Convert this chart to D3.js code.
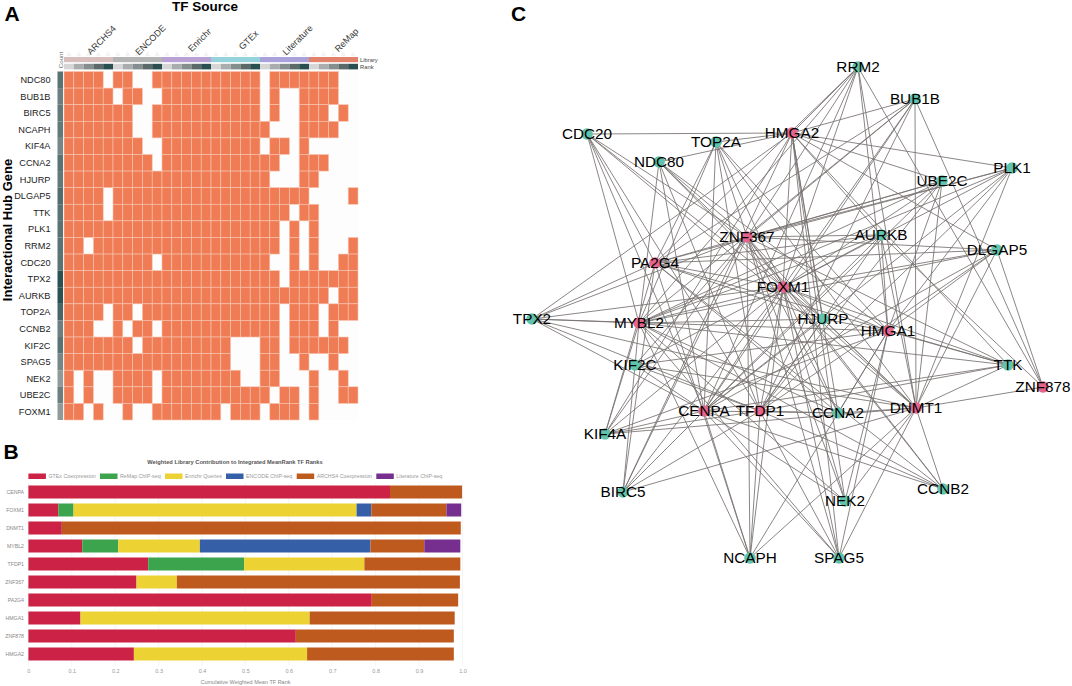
<!DOCTYPE html>
<html><head><meta charset="utf-8">
<script src="https://d3js.org/d3.v7.min.js"></script>
<style>html,body{margin:0;padding:0;background:#fff}svg{display:block}text{font-family:"Liberation Sans",Arial,sans-serif}</style>
</head><body><svg id="c" width="1072" height="686"></svg>
<script>
// ---------- Panel A data ----------
const genes = ["NDC80","BUB1B","BIRC5","NCAPH","KIF4A","CCNA2","HJURP","DLGAP5","TTK","PLK1","RRM2","CDC20","TPX2","AURKB","TOP2A","CCNB2","KIF2C","SPAG5","NEK2","UBE2C","FOXM1"];
const libraries = ["ARCHS4","ENCODE","Enrichr","GTEx","Literature","ReMap"];
const libraryColors = ["#d9bebe","#b4b4b4","#b9a1d6","#94d2dc","#a9a1d9","#e3826a"];
const rankColors = ["#d6d6d6","#a9adad","#858e8e","#5b6969","#2a4f50"];
const membership = [
"111101100111111111110111111100",
"111110110011111111110100111100",
"111111100111111111110100111010",
"111111100111111111111000111100",
"111111110011111111110110100000",
"111111111011111111111100111000",
"111111111111111111111000110000",
"111101111111111111111111100001",
"111101111111111111111110110000",
"111111111111111111111101010000",
"110111111111111111111101010001",
"111111111011111111111001010011",
"111111111111111111111101111111",
"111111111111111111111111111011",
"111101101111111111111101110111",
"111001011011111111111101110100",
"111111101111111110001101111110",
"111111111111111110001100100100",
"101001111011111111001100010010",
"101001111011111111111011010011",
"110100100111111101110111010000"];

// ---------- Panel B data ----------
const tfRanked = ["CENPA","FOXM1","DNMT1","MYBL2","TFDP1","ZNF367","PA2G4","HMGA1","ZNF878","HMGA2"];
const seriesNames = ["GTEx Coexpression","ReMap ChIP-seq","Enrichr Queries","ENCODE ChIP-seq","ARCHS4 Coexpression","Literature ChIP-seq"];
const seriesColors = ["#cb2245","#3ca44c","#ecd233","#3560a8","#bf5a1e","#762f8e"];
const gtex     = [0.833,0.069,0.077,0.124,0.276,0.249,0.791,0.120,0.616,0.243];
const remap    = [0,0.035,0,0.083,0.221,0,0,0,0,0];
const enrichr  = [0,0.652,0,0.188,0.277,0.093,0,0.528,0,0.399];
const encode   = [0,0.034,0,0.393,0,0,0,0,0,0];
const archs4   = [0.166,0.173,0.919,0.124,0.221,0.652,0.199,0.334,0.364,0.338];
const literature = [0,0.034,0,0.083,0,0,0,0,0,0];
const axisTicks = [0,0.1,0.2,0.3,0.4,0.5,0.6,0.7,0.8,0.9,1.0];

// ---------- Panel C data ----------
const tfNodes = ["FOXM1","ZNF367","HMGA2","PA2G4","MYBL2","HMGA1","CENPA","TFDP1","DNMT1","ZNF878"];
const netNames = ["CDC20","TOP2A","NDC80","HMGA2","ZNF367","RRM2","BUB1B","PLK1","UBE2C","AURKB","DLGAP5","PA2G4","FOXM1","TPX2","MYBL2","KIF2C","CENPA","TFDP1","KIF4A","HJURP","HMGA1","TTK","ZNF878","DNMT1","CCNA2","BIRC5","NEK2","CCNB2","NCAPH","SPAG5"];
const netX = [47,176,119,252,207,318,375,472,402,341,457,115,243,-8,99,95,164,220,65,283,348,468,503,376,298,83,305,403,210,299];
const netY = [94,102,122,93,197,27,59,128,141,195,210,223,247,279,283,325,371,371,394,279,291,325,347,368,373,452,461,449,518,518];
const hubLinks = {
 CDC20:["HMGA2","ZNF367","FOXM1","PA2G4","MYBL2","CENPA","TFDP1","DNMT1"],
 TOP2A:["HMGA2","PA2G4","MYBL2","CENPA","TFDP1","FOXM1","ZNF367","HMGA1","DNMT1"],
 NDC80:["HMGA2","ZNF367","FOXM1","HMGA1","DNMT1","MYBL2","CENPA","TFDP1"],
 RRM2:["HMGA2","ZNF367","PA2G4","MYBL2","FOXM1","HMGA1","DNMT1","CENPA","ZNF878"],
 BUB1B:["HMGA2","ZNF367","PA2G4","MYBL2","CENPA","TFDP1","FOXM1","DNMT1","ZNF878"],
 PLK1:["HMGA2","ZNF367","PA2G4","MYBL2","FOXM1","HMGA1","DNMT1","CENPA","TFDP1"],
 UBE2C:["HMGA2","ZNF367","PA2G4","MYBL2","CENPA","TFDP1","FOXM1","HMGA1","DNMT1"],
 AURKB:["ZNF367","PA2G4","MYBL2","FOXM1","HMGA2","HMGA1","DNMT1","CENPA","TFDP1"],
 DLGAP5:["HMGA2","ZNF367","PA2G4","MYBL2","CENPA","TFDP1","HMGA1","DNMT1","ZNF878","FOXM1"],
 TPX2:["HMGA2","ZNF367","PA2G4","MYBL2","FOXM1","HMGA1","DNMT1","CENPA","TFDP1"],
 KIF2C:["CENPA","TFDP1","ZNF367","FOXM1","HMGA1","DNMT1"],
 KIF4A:["MYBL2","PA2G4","HMGA2","ZNF367","FOXM1","CENPA","TFDP1","DNMT1","HMGA1"],
 BIRC5:["MYBL2","PA2G4","ZNF367","FOXM1","HMGA2","CENPA","TFDP1","DNMT1"],
 NCAPH:["PA2G4","MYBL2","ZNF367","FOXM1","CENPA","TFDP1","HMGA1","DNMT1"],
 SPAG5:["MYBL2","ZNF367","FOXM1","CENPA","TFDP1","HMGA2","HMGA1","DNMT1"],
 NEK2:["CENPA","FOXM1","ZNF367","MYBL2","HMGA1","HMGA2","DNMT1"],
 CCNB2:["MYBL2","CENPA","TFDP1","FOXM1","ZNF367","PA2G4","DNMT1"],
 CCNA2:["HMGA1","HMGA2","FOXM1","ZNF367","DNMT1","TFDP1","CENPA","MYBL2","PA2G4"],
 HJURP:["HMGA1","HMGA2","FOXM1","ZNF367","DNMT1","TFDP1","CENPA","MYBL2","PA2G4"],
 TTK:["HMGA1","HMGA2","FOXM1","ZNF367","MYBL2","CENPA","DNMT1","TFDP1","PA2G4"],
 FOXM1:["ZNF367","HMGA2","HMGA1","DNMT1","MYBL2","PA2G4","CENPA","TFDP1"],
 ZNF878:["DNMT1","AURKB"]
};

const svg = d3.select("#c");
const letter = (t,x,y)=>svg.append("text").text(t).attr("x",x).attr("y",y).attr("font-size",21).attr("font-weight",700).attr("fill","#000");
letter("A",4.5,21); letter("B",3.5,459); letter("C",511,21);

// ---------- Panel A ----------
const A = svg.append("g");
const colIdx = d3.range(membership[0].length);
const xA = d3.scaleBand().domain(colIdx).range([64,358]);
const yA = d3.scaleBand().domain(genes).range([71.5,420]);
const libX = d3.scaleBand().domain(libraries).range([64,358]);
const counts = membership.map(r=>r.split("").filter(c=>c==="1").length);
const countColor = d3.scaleLinear().domain(d3.extent(counts)).range(["#8f9a9a","#2c5152"]);

A.append("text").text("TF Source").attr("x",205).attr("y",11).attr("text-anchor","middle").attr("font-size",13.5).attr("font-weight",700);
A.append("text").text("Interactional Hub Gene").attr("transform","translate(12,230) rotate(-90)").attr("text-anchor","middle").attr("font-size",13).attr("font-weight",700);
A.selectAll(".tri").data(colIdx).join("path").attr("d",d3.symbol(d3.symbolTriangle,14))
 .attr("transform",d=>`translate(${xA(d)+xA.bandwidth()/2},54.5)`).attr("fill","#f3f3f3");
A.selectAll(".lib").data(libraries).join("rect").attr("x",d=>libX(d)).attr("width",libX.bandwidth()).attr("y",57).attr("height",5.2).attr("fill",(d,i)=>libraryColors[i]);
A.selectAll(".rank").data(colIdx).join("rect").attr("x",d=>xA(d)).attr("width",xA.bandwidth()).attr("y",63.8).attr("height",5.6).attr("fill",d=>rankColors[d%5]);
A.selectAll(".libl").data(libraries).join("text").text(d=>d).attr("font-size",9).attr("fill","#333").attr("text-anchor","middle")
 .attr("transform",d=>`translate(${libX(d)+libX.bandwidth()/2+13},40) rotate(-45)`).attr("dy","0.35em");
A.append("text").text("Library").attr("x",360).attr("y",62).attr("font-size",5.8).attr("fill","#444");
A.append("text").text("Rank").attr("x",360).attr("y",69).attr("font-size",5.8).attr("fill","#444");
A.append("text").text("Count").attr("transform","translate(62.5,60) rotate(-90)").attr("text-anchor","middle").attr("font-size",6.2).attr("fill","#666");
A.append("rect").attr("x",64).attr("y",71.5).attr("width",294).attr("height",348.5).attr("fill","#fdfdfd");
genes.forEach((g,ri)=>{
  A.append("rect").attr("x",57.5).attr("width",5.5).attr("y",yA(g)).attr("height",yA.bandwidth()).attr("fill",countColor(counts[ri]));
  A.append("text").text(g).attr("x",50.5).attr("y",yA(g)+yA.bandwidth()/2).attr("dy","0.35em").attr("text-anchor","end").attr("font-size",9.2).attr("fill","#222");
  A.selectAll(null).data(colIdx.filter(c=>membership[ri][c]==="1")).join("rect")
   .attr("x",d=>xA(d)).attr("y",yA(g)).attr("width",xA.bandwidth()).attr("height",yA.bandwidth())
   .attr("fill","#ef7c55").attr("stroke","#f8c6b2").attr("stroke-width",0.6);
});

// ---------- Panel B ----------
const B = svg.append("g");
const xB = d3.scaleLinear().domain([0,1]).range([28.4,462.5]);
const yB = d3.scaleBand().domain(tfRanked).range([483,663]).paddingInner(5/18).paddingOuter(2.5/18);
const seriesRows = tfRanked.map((t,i)=>({t,0:gtex[i],1:remap[i],2:enrichr[i],3:encode[i],4:archs4[i],5:literature[i]}));
const stacked = d3.stack().keys([0,1,2,3,4,5])(seriesRows);
B.append("text").text("Weighted Library Contribution to Integrated MeanRank TF Ranks").attr("x",235).attr("y",464).attr("text-anchor","middle").attr("font-size",5.7).attr("font-weight",700).attr("fill","#555");
B.selectAll(".grid").data(axisTicks).join("line").attr("x1",d=>xB(d)).attr("x2",d=>xB(d)).attr("y1",483).attr("y2",666).attr("stroke","#efefef").attr("stroke-width",0.6);
stacked.forEach((s,k)=>{
  B.selectAll(null).data(s.filter(d=>d[1]-d[0]>0)).join("rect")
   .attr("x",d=>xB(d[0])).attr("width",d=>xB(d[1])-xB(d[0])).attr("y",d=>yB(d.data.t)).attr("height",yB.bandwidth()).attr("fill",seriesColors[k]);
});
const axB = B.append("g").attr("transform","translate(0,666)").call(d3.axisBottom(xB).tickValues(axisTicks).tickSize(0).tickPadding(3).tickFormat(d=>d===0?"0":d.toFixed(1)));
axB.select(".domain").remove();
axB.selectAll("text").attr("font-size",5.5).attr("fill","#999").attr("font-family","Liberation Sans");
const ayB = B.append("g").attr("transform","translate(24,0)").call(d3.axisLeft(yB).tickSize(0).tickPadding(0));
ayB.select(".domain").remove();
ayB.selectAll("text").attr("font-size",5.2).attr("fill","#888").attr("font-family","Liberation Sans");
B.append("text").text("Cumulative Weighted Mean TF Rank").attr("x",245.5).attr("y",683.5).attr("text-anchor","middle").attr("font-size",5.5).attr("fill","#888");
const legendX = d3.scaleOrdinal().domain(seriesNames).range([28.4,100,165,226,296.7,376.3]);
B.selectAll(".lg").data(seriesNames).join("rect").attr("x",d=>legendX(d)).attr("y",473.5).attr("width",17.5).attr("height",5.5).attr("fill",(d,i)=>seriesColors[i]);
B.selectAll(".lgt").data(seriesNames).join("text").text(d=>d).attr("x",d=>legendX(d)+20).attr("y",476.3).attr("dy","0.35em").attr("font-size",5.3).attr("fill","#999");

// ---------- Panel C ----------
const C = svg.append("g");
const xC = d3.scaleLinear().domain([0,520]).range([540,1060]);
const yC = d3.scaleLinear().domain([0,540]).range([40,580]);
const nodeIndex = new Map(netNames.map((n,i)=>[n,i]));
const links = Object.entries(hubLinks).flatMap(([h,ts])=>ts.map(t=>({h,t})));
C.selectAll(".edge").data(links).join("line")
 .attr("x1",d=>xC(netX[nodeIndex.get(d.h)])).attr("y1",d=>yC(netY[nodeIndex.get(d.h)]))
 .attr("x2",d=>xC(netX[nodeIndex.get(d.t)])).attr("y2",d=>yC(netY[nodeIndex.get(d.t)]))
 .attr("stroke","#777170").attr("stroke-opacity",0.9).attr("stroke-width",0.95);
C.selectAll(".node").data(netNames).join("circle")
 .attr("cx",(d,i)=>xC(netX[i])).attr("cy",(d,i)=>yC(netY[i])).attr("r",5.8)
 .attr("fill",d=>tfNodes.includes(d)?"#e5648c":"#62c3ab");
C.selectAll(".lab").data(netNames).join("text").text(d=>d)
 .attr("x",(d,i)=>xC(netX[i])).attr("y",(d,i)=>yC(netY[i])).attr("dy","0.35em").attr("text-anchor","middle").attr("font-size",15.3).attr("fill","#000");
</script></body></html>
